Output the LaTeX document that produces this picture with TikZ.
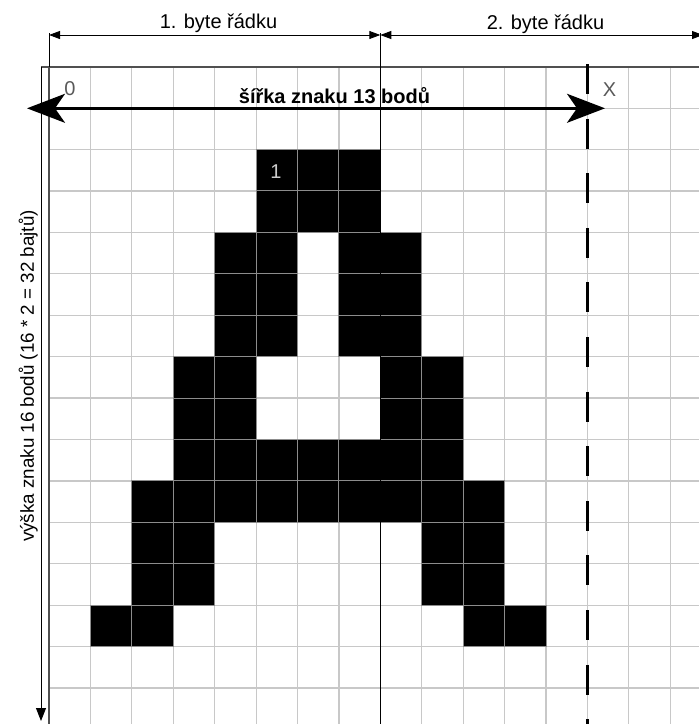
\documentclass[tikz,border=0pt]{standalone}
\usepackage{fontspec}
\setmainfont{Liberation Sans}
\usetikzlibrary{arrows.meta}
\definecolor{gridgray}{HTML}{C8C8C8}
\definecolor{cellline}{HTML}{8C8C8C}
\definecolor{framegray}{HTML}{505050}
\begin{document}
\begin{tikzpicture}[x=1pt,y=-1pt,
  gridline/.style={draw=gridgray,line width=1.2pt},
  pixel/.style={fill=black,draw=cellline,line width=1pt},
  lbl/.style={font=\fontsize{20}{24}\selectfont,inner sep=0pt},
  dimline/.style={draw=black,line width=0.9pt,{Triangle[length=11pt,width=8pt]}-{Triangle[length=11pt,width=8pt]}},
  widtharrow/.style={draw=black,line width=2.4pt,{Stealth[length=38pt,width=29pt,inset=10pt]}-{Stealth[length=38pt,width=29pt,inset=10pt]}},
  heightarrow/.style={draw=black,line width=0.9pt,-{Triangle[length=13pt,width=10pt]}},
  dashline/.style={draw=black,line width=3pt,dash pattern=on 30pt off 24.6pt}
]
\useasboundingbox (0,0) rectangle (699,724);
\fill[white] (0,0) rectangle (699,724);
\def\c{41.42}
% grid
\foreach \i in {0,...,15} {
  \draw[gridline] ({49+\i*\c},66.7) -- ({49+\i*\c},724);
  \draw[gridline] (49,{66.7+\i*\c}) -- (699,{66.7+\i*\c});
}
% pixels of the letter A
\foreach \col/\row in {5/2,6/2,7/2, 5/3,6/3,7/3,
  4/4,5/4,7/4,8/4, 4/5,5/5,7/5,8/5, 4/6,5/6,7/6,8/6,
  3/7,4/7,8/7,9/7, 3/8,4/8,8/8,9/8,
  3/9,4/9,5/9,6/9,7/9,8/9,9/9,
  2/10,3/10,4/10,5/10,6/10,7/10,8/10,9/10,10/10,
  2/11,3/11,9/11,10/11, 2/12,3/12,9/12,10/12,
  1/13,2/13,10/13,11/13} {
  \draw[pixel] ({49+\col*\c},{66.7+\row*\c}) rectangle ++(\c,\c);
}
% coordinates
\coordinate (ext1top) at (49,33);
\coordinate (ext1bot) at (49,66.7);
\coordinate (leftbot) at (49,724);
\coordinate (midtop) at (380.3,33);
\coordinate (midbot) at (380.3,724);
\coordinate (d1a) at (49,35);
\coordinate (d1b) at (380.3,35);
\coordinate (d2b) at (703,35);
\coordinate (frameTL) at (41,66.7);
\coordinate (frameTR) at (699,66.7);
\coordinate (hbot) at (41,721);
\coordinate (wl) at (27,108.3);
\coordinate (wr) at (605,108.3);
\coordinate (dtop) at (587.5,64);
\coordinate (dbot) at (587.5,724);
% frame lines
\draw[framegray,line width=1.8pt] (frameTL) -- (frameTR);
\draw[framegray,line width=1.6pt] (ext1bot) -- (leftbot);
\draw[black,line width=0.9pt] (ext1top) -- (ext1bot);
\draw[black,line width=1.2pt] (midtop) -- (midbot);
\draw[dashline] (dtop) -- (dbot);
% dimension lines
\draw[dimline] (d1a) -- (d1b);
\draw[dimline] (d1b) -- (d2b);
\draw[heightarrow] (frameTL) -- (hbot);
\draw[widtharrow] (wl) -- (wr);
% labels
\node[lbl,anchor=base] (lab1) at (218.5,28) {1. byte řádku};
\node[lbl,anchor=base] (lab2) at (545.5,29) {2. byte řádku};
\node[lbl,anchor=base,font=\fontsize{20}{24}\selectfont\bfseries] (wlab) at (334.5,103) {šířka znaku 13 bodů};
\node[lbl,anchor=base,rotate=90,font=\fontsize{18.8}{22}\selectfont] (hlab) at (34,376) {výška znaku 16 bodů (16 * 2 = 32 bajtů)};
\node[lbl,text=black!65] (zero) at (70,89) {0};
\node[lbl,text=black!65] (xlab) at (609.5,90) {X};
\node[lbl,text=black!20] (one) at (276,172) {1};
\end{tikzpicture}
\end{document}
